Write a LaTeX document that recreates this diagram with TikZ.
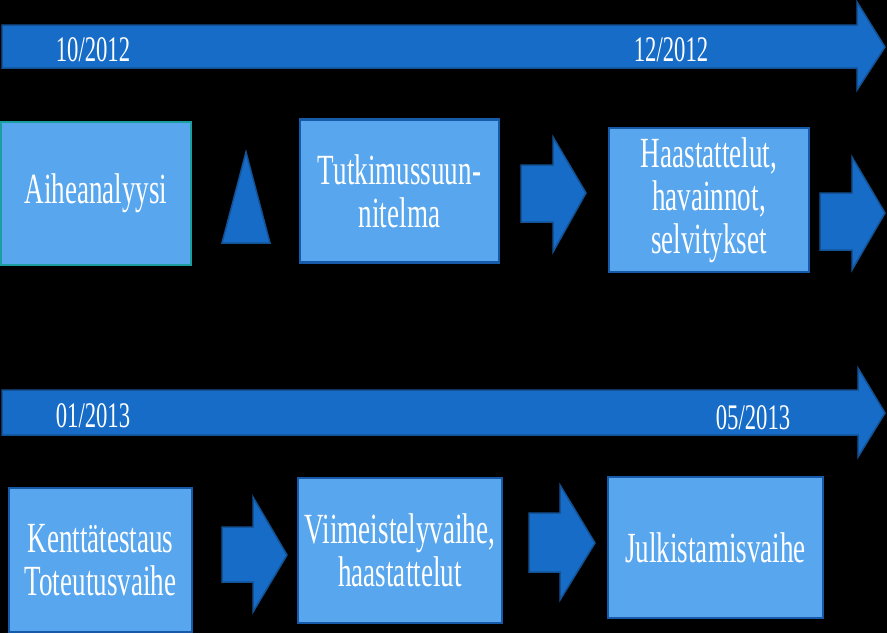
\documentclass[tikz,border=0pt]{standalone}
\usepackage{fontspec}
\setmainfont[FakeStretch=0.63]{Liberation Serif}
\definecolor{arrowfill}{RGB}{22,108,198}
\definecolor{arrowedge}{RGB}{20,82,150}
\definecolor{boxfill}{RGB}{88,166,238}
\definecolor{boxedge}{RGB}{24,90,170}
\definecolor{tealedge}{RGB}{26,158,160}
\tikzset{
  blockarrow/.style={fill=arrowfill,draw=arrowedge,line width=1.5pt,line join=miter},
  stagebox/.style={draw=boxedge,fill=boxfill,line width=2.5pt,inner sep=0pt,
    text=white,align=center,font=\fontsize{43}{43}\selectfont},
  datetext/.style={text=white,font=\fontsize{36}{38}\selectfont,inner sep=0pt}
}
\begin{document}
\begin{tikzpicture}[x=1pt,y=-1pt]
\useasboundingbox (0,0) rectangle (887,633);
\fill[black] (0,0) rectangle (887,633);
% top timeline arrow
\path[blockarrow] (2,25) -- (857,25) -- (857,2) -- (885,47) -- (857,90) -- (857,68) -- (2,68) -- cycle;
\node[datetext] (d1) at (93,50) {10/2012};
\node[datetext] (d2) at (671,50) {12/2012};
% bottom timeline arrow
\path[blockarrow] (2,390) -- (858,390) -- (858,368) -- (885,413) -- (858,457) -- (858,435) -- (2,435) -- cycle;
\node[datetext] (d3) at (93,416) {01/2013};
\node[datetext] (d4) at (753,418) {05/2013};
% top row boxes
\node[stagebox,draw=tealedge,minimum width=190pt,minimum height=143pt] (b1) at (96,193.5) {Aiheanalyysi};
\node[stagebox,minimum width=199pt,minimum height=143pt] (b2) at (399.5,191) {Tutkimussuun-\\nitelma};
\node[stagebox,minimum width=200pt,minimum height=144pt] (b3) at (709,200) {Haastattelut,\\havainnot,\\selvitykset};
% triangle
\path[blockarrow] (246,152) -- (270,243) -- (222,243) -- cycle;
% top row arrows
\path[blockarrow] (521,165) -- (553,165) -- (553,137) -- (586,193) -- (553,252) -- (553,222) -- (521,222) -- cycle;
\path[blockarrow] (820,193) -- (852,193) -- (852,157) -- (885,213) -- (852,270) -- (852,250) -- (820,250) -- cycle;
% bottom row boxes
\node[stagebox,minimum width=183pt,minimum height=144pt] (b4) at (100.5,560) {Kenttätestaus\\Toteutusvaihe};
\node[stagebox,minimum width=204pt,minimum height=145pt] (b5) at (400,550.5) {Viimeistelyvaihe,\\haastattelut};
\node[stagebox,minimum width=215pt,minimum height=141pt] (b6) at (715.5,547.5) {Julkistamisvaihe};
% bottom row arrows
\path[blockarrow] (222,527) -- (253,527) -- (253,497) -- (287,555) -- (253,612) -- (253,582) -- (222,582) -- cycle;
\path[blockarrow] (529,513) -- (560,513) -- (560,485) -- (595,543) -- (560,600) -- (560,572) -- (529,572) -- cycle;
\end{tikzpicture}
\end{document}
